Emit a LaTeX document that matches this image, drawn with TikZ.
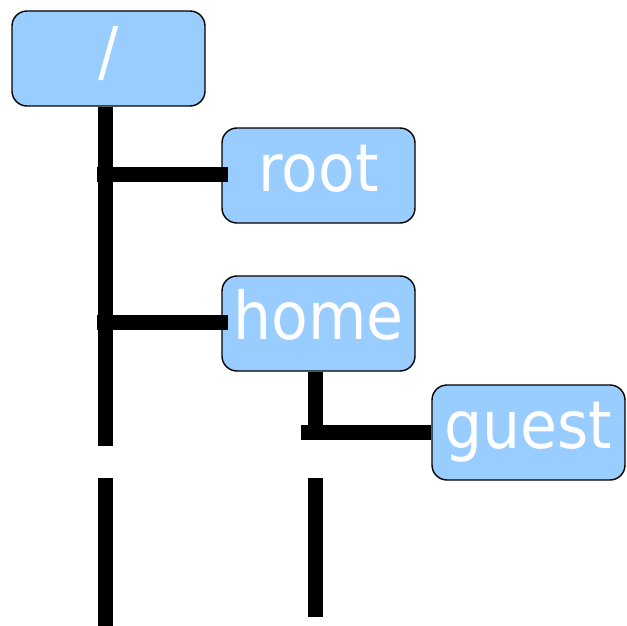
\documentclass[tikz,border=0pt]{standalone}
\usepackage{fontspec}
\setmainfont{DejaVu Sans}
\definecolor{boxblue}{HTML}{99CCFF}
\newcommand{\tallt}[1]{\scalebox{1}[1.1]{#1}}
\begin{document}
\begin{tikzpicture}[x=1pt,y=-1pt,
  dirbox/.style={rectangle, rounded corners=15pt, fill=boxblue, draw=black, line width=1.4pt,
    minimum width=193pt, minimum height=95pt, inner sep=0pt, text=white,
    font=\fontsize{60}{72}\selectfont, text height=32pt, text depth=0pt},
  conn/.style={line width=15pt, line cap=butt, draw=black}]
\useasboundingbox (0,0) rectangle (627,626);
\node[dirbox] (slash) at (108.5,58.5) {\tallt{/}};
\node[dirbox] (root) at (318.5,175.5) {\tallt{root}};
\node[dirbox] (home) at (318.5,323.5) {\tallt{home}};
\node[dirbox] (guest) at (528.5,432.5) {\tallt{guest}};
% trunk coordinates
\coordinate (t1) at (105,446);
\coordinate (t2) at (105,478);
\coordinate (t3) at (105,626);
\coordinate (j1) at (97,174);
\coordinate (j2) at (97,322);
\coordinate (h1) at (315,439.5);
\coordinate (hj) at (301,432);
\coordinate (h2) at (315,478);
\coordinate (h3) at (315,617);
\draw[conn] (slash.south -| t1) -- (t1);
\draw[conn] (t2) -- (t3);
\draw[conn] (j1) -- ([xshift=7pt]root.west |- j1);
\draw[conn] (j2) -- ([xshift=7pt]home.west |- j2);
\draw[conn] (home.south -| h1) -- (h1);
\draw[conn] (hj) -- (guest.west |- hj);
\draw[conn] (h2) -- (h3);
\end{tikzpicture}
\end{document}
